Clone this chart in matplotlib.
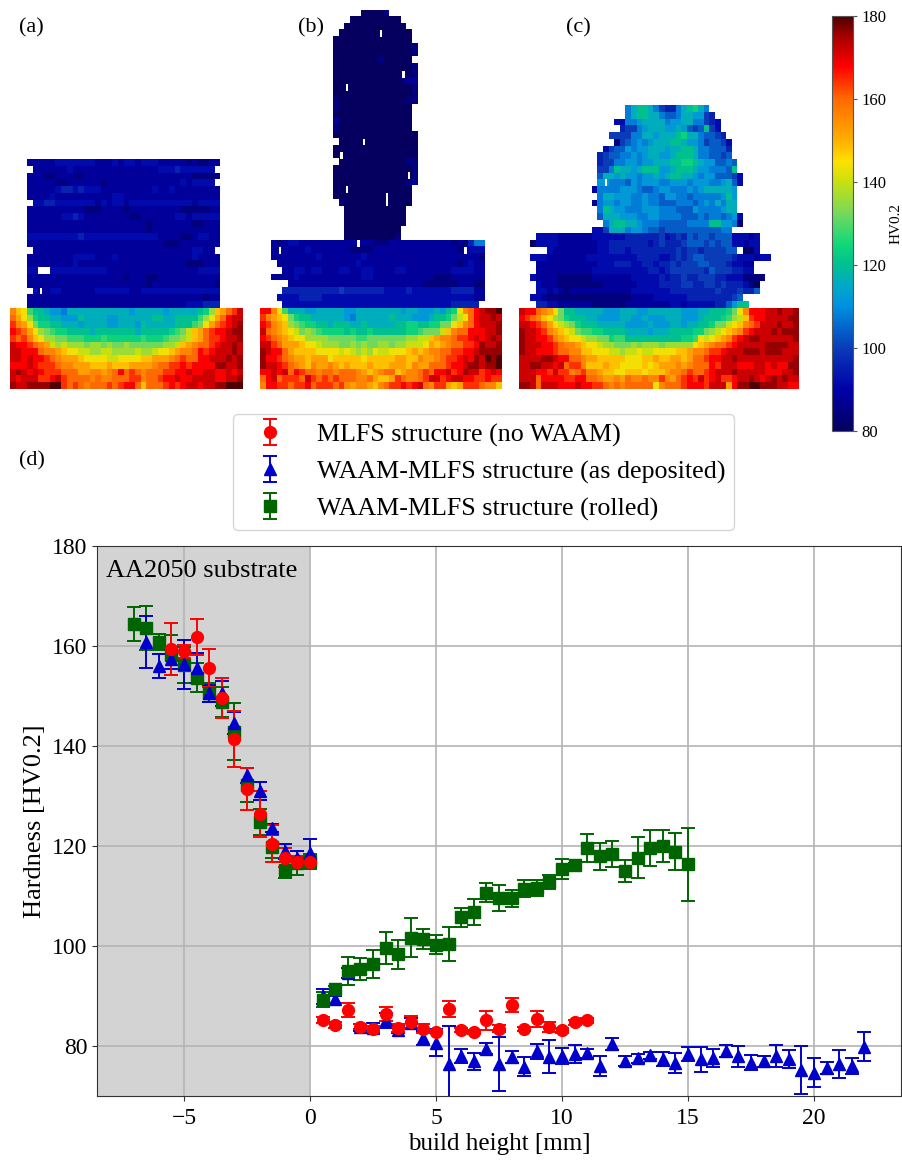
import matplotlib
matplotlib.use('Agg')
import matplotlib.pyplot as plt
from matplotlib.colors import LinearSegmentedColormap
from matplotlib.patches import Rectangle
import numpy as np

plt.rcParams['font.family'] = ['Liberation Serif', 'DejaVu Serif']

W, H = 902, 1161

# colour bar
CMAP_HV = [80, 90, 100, 110, 115, 120, 125, 132, 140, 145, 150, 160, 168, 175, 180]
CMAP_COLORS = ['#050060', '#0000aa', '#0a3cb8', '#0090e0', '#00a8c8', '#00c090', '#10d878', '#70d860', '#c8e010',
               '#ffe000', '#ffb000', '#ff6a00', '#ff0000', '#aa0000', '#500000']

# Hardness maps, one letter per indent: a = 80 HV, b = 84 HV ... z = 180 HV, '.' = no indent
DEPOSIT_A = [
    "cccccdddddddcccdcddcdddcccccbcbbcc",
    ".ccccccdcccccccccccccccdddedddddd.",
    "cccbbcccbbcccccccccccccccccccbbbbb",
    "cccccbbccccccbcccccccccccccdcdddd.",
    "cccccdeededddcccccccccdccdcccccccc",
    "ccccdccccccccccddccccccccccccccccc",
    ".ddeedddddddcdcddcdddddddddddcdddd",
    "ccccccccccbbbccccbcccccccccbbbbbcc",
    "ccccccddedccccccccbbccccccddcddddd",
    "cccccccccccccccccccccbcccccccbbccc",
    "cccccccccccccccccccccbcccccccccccc",
    "dddddddddedddddddddddddccccbbcddcc",
    "ccccccccccccccccccccccccbbbccccccc",
    ".ccccccccccccccccccccccccccccddcc.",
    "ccccccccddddcccdcccccccccccccdcccc",
    "ccccccccdcccccccccccccccccccbbbccc",
    "dd..ddddddddddccccccccccccccccdddd",
    "cccccccccccccccccbcccbbccccccccccc",
    "cccccccccccccccccccccbcccccccccccb",
    ".dccddccccccddddddccdddddddddddddd",
    "cccccccccccccccccccccccccccccccbcc",
    "ccccccccccccccccccccccccccccdddeee",
]
SUB_A = [
    "trqmkkjiihjjjjjjjjjjjijjjjjijjjjjklorsuvx",
    "usqolkkjjiiikjjjjiijjjjjjkkjjkkkkmoqsuwxx",
    "vtsqnllkkjjjijjjjiijjjikjjjjjkkkmnqsuvwxy",
    "wvusqonmllkkkkjkkkkkkkjkkkkklmnprsuvwwxyy",
    "vuvtrqoonnmmmlllmllllllmlllmnnoprsuvvwxxy",
    "xwwvutspopooonoononnonnnnnnooprstuuvwxxyx",
    "xxwwwuttsrqqppooppoooopoopqqrsttuwvwxxxyx",
    "xxwxwwvutsssrqqqqppqqqqrrssstuvuuwwxxxyxy",
    "wwwxwvvvuttsssrrrsrrrsssstuuvvwvwwwwyyxxy",
    "xyxwxwvvvuuussttstuwuvutuuuvvwwxwwxxwwxwx",
    "xwxxxvvwxvuuuututtuuuvvtuuvwwxwwxxxxwwxxy",
    "yxxyyyyzzvuvutuuuvuvwwuruuuvwvwxxwxxyyzzz",
]
SLITS_A = [(19, 5)]

WALL_B = [
    ".....aaaab.....", "...aaaaaaaaa...", "..aaaaaaaaaaa..", ".aaaaaaaaaaaaa.",
    "aaaaaaaaaaaaaa.", "aaaaaaaaaaaaaab", "aaaaaaaaaaaaaab", "aaaaaaaabaaaaa.",
    "aaaaaaaaaaaaaab", "aaaaaaaaaaaaaab", "aaaaaaaaaaaabcc", "aaaaaaaaaaaaaab",
    "aaaaaaaaaaaaaab", "baaaaaaaaaaaabb", "baaaaaaaaaaaaa.", "aaaaaaaaaaaaaa.",
    "caaaaaaaaaaaaa.", "baaaaaaaaaaaaa.", "aaaaaaaaaaaaaaa", ".aaaaaaaaaaaaaa",
    "aaaaaaaaaaaaaaa", "aaaaaaaaaaaaaaa", ".aaaaaaaaaaaabb", "aaaaaaaaaaaaaab",
    "aaaaaaaaaaaaaab", "aaaaaaaaaaaaabc", "aaaaaaaaaaaaaa.", "aaaaaaaaaaaaaa.",
    ".baaaaaaaaaaaa.", "..aaaaaaaaaaa..", "..aaaaaaaaaaa..", "..aaaaaaaaaaa..",
    "..aaaaaaaaaa...", "..aaaaaaaaab...",
]
BASE_B = [
    "cbcddcccccccccccccbbbcccccccccccbcbehh",
    "ccccccdcccccccbbbbcccccccccccccccbcddd",
    "ccccccccdcccccccdccccccccccccccccccccb",
    ".ccccccccccccccdcccccccccccccccccbcdcc",
    "..ccddcddcccddccddccccddccccccccddddcc",
    "ccccdcccccccccccddcccccccccccbbbcccccc",
    "...ccccccccccccccccccccccccbbbbbbcccbb",
    "..eeeeeeeeeefeeeeeeeddddedddddddeeeecc",
    ".ddddeeeedddddddddddddddddddddddddddcc",
    "..ddddddddddddddddddddddddddddddeeeee.",
]
SUB_B = [
    "wwtqmjjjiijjjjjiijjjjjjjjijjiiijiklqtuwxyyz",
    "vtsrqnlkkjjjjjjihjjjjjjkjjjiiijkklnpquwxxyx",
    "wvtsronmllkkjkkkjjkjjjjjkkllkkllnnqrtuwxxxy",
    "xutsrqpnonmllllklkklkkkkkkllmnnnprtuuwwwxxy",
    "wvutsrqqoooonnnnnmmnnnnnnnoopprsttuvvwxwxyx",
    "xxvusssrqqpooonnononnoonoopppqsrstuuvvwyxxy",
    "yxwwusrrrrqqqqpqpopoqppqqqrsrsttuuvvwwxyyyy",
    "ywwvutssrsssqrrrrrqrrrrrssrrtsstuvvwxwyxzyz",
    "yxxwvutsrtsstsrsrrrsrrrsssrtssuuuvwwxyyxyyz",
    "wwxwxuwvuutuutuuutsrstuursttuvuwwxvwyxxvwxw",
    "uwxuvvvuxvuvuvuuuttusrrsvuttuvxxvwxxwwvvwvv",
    "twwvvuvvwuvvvuvtsttsrtuvvwvwxutvvsrsvvvuttr",
]
SLITS_B = [(3, 21), (9, 25), (11, 15), (19, 18), (21, 14), (24, 26), (26, 15), (27, 22), (28, 22), (34, 17),
           (35, 3), (35, 36)]

MAP_C = [
    "...................hjkkjhfeehjkljh................",
    "...................hjkkjjhgghjjiife...............",
    ".................ddhhijjjjhiijjhhfed..............",
    "..................effhijjjiijigfgkfd..............",
    "................ffffhhjjijjjkljjhggfe.............",
    ".................bfghihijjjkkjiihfggfd............",
    "...............dfggihiijjjijjkkjhhggge............",
    "..............efgghhihijjiijkkkjhhggfg............",
    "..............effhhiihiijjjkkllkjiigghg...........",
    "..............ffhkjjijkkkiijkkkjiihhhgk...........",
    "..............gjjijiihiijijkkjjihiigggfd..........",
    "..............iihhhgihiiihhiiihiiihhijgd..........",
    ".............chhhhiiihgghiihhhihijjjjji...........",
    "..............hjjiiihhihhgiihhghhhhhiki...........",
    ".............chiihiihhihhggghhhghihjhjj...........",
    "..............hkjiihhhiiihhhgggihhhhijj...........",
    "..............gjjjiiihhiihhhhggghghhghid..........",
    "...............hjkkjjihhhggggghhhhkkiihb..........",
    ".............ddfjjjhiihggfgggggggggghh............",
    "...ddddccccccddddddeeeeeefdefegfggfgggdddcd.......",
    "..addddcccccccddeeeeeeedefeeefgggfgfggddcdd.......",
    ".....dccccccccddeeedeeeeeeeefeffeffffgg.aad.......",
    "..dddcccccccdddddddddeeeeddefefggfffffedddcdd.....",
    "...cccccccccccdddeeeddeedeefefffggfffeddcc........",
    "...ccccccccccddddddddddeedeffffffegfffeedd........",
    "..dccccbbbbbbcccccccdddddedeefeefffeedddbbbb......",
    "...dcccbbbbbbbbccccccddddeeeeffeeffefeeedba.......",
    "...ddcdcbcccccccccccdddddddeeeeeeeefeeefeeg.......",
    "..ddcbbbbbbbbbbbbbbbccccddddddeeeeeeeefg..........",
    "...eeddccccccbbbbbbccccccccddcdddddeegikk.........",
    "xwwutsqnkkjjjjjiiijjjiijjjjjjiiijjkkklnqtwwwxxyxxy",
    "wvutrqonlkkkjjiiiijjiijiiijjjiiijkkklmoprvwwxxxxyy",
    "xxwvusqponlkkkjjjjjiiiijiiijjijjkklnnpqrtuvxxxyxxy",
    "yxxwvtsrqpnmmllkkkkjjjjijjjkkkkllnopqrstvwxxxyxyyy",
    "yxxwwvtsrqqpoonnlmmkkkkkkkkkkllmqpqrstvwxyyxxxxxxy",
    "yxxxwwvuttsrqqpoonnnonooonoooooqrstuuvwxxxxxyyyyxx",
    "yxxwwwvuuttrrqqqppoppqppqqqqrrsttuvvwxxxyyyxyyyxxx",
    "xxxxyyxwwuutssrrrrrqqqrrsrrssrsuuvwwxxyxxxxxxxxxxy",
    "xxyyxxwxuvvtrrrsrrqqqqrqrssststuuuwvxxxwwwxxwxwwyy",
    "xxxwwvxvvtuvttsrrqqrrrqrrrsttuvuuvwxxxyxxxxxwwwxxy",
    "xxxuwwwwvvwwuutsstsuttuttvtsuvwvxvwxvvwxxyxwxyxyxx",
    "yyxuxxxwwwxwwvvututuuuuuqtuuuvwwwvxxxswyyzzyyyxxww",
]
SLITS_C = [(11, 15)]

# hardness profiles: build height, mean, error bar
X_RED = [-5.5, -5, -4.5, -4, -3.5, -3, -2.5, -2, -1.5, -1, -0.5, 0, 0.5, 1, 1.5, 2, 2.5, 3, 3.5, 4, 4.5, 5,
         5.5, 6, 6.5, 7, 7.5, 8, 8.5, 9, 9.5, 10, 10.5, 11]
Y_RED = [159.5, 159, 161.8, 155.6, 149.6, 141.4, 131.4, 126.4, 120.5, 117.7, 116.8, 116.9, 85.3, 84.2, 87.2, 83.9,
         83.4, 86.4, 83.6, 84.9, 83.5, 82.9, 87.4, 83.3, 82.9, 85.2, 83.5, 88.2, 83.4, 85.5, 83.8, 83.2, 84.8, 85.2]
E_RED = [5.2, 1.3, 3.6, 3.8, 4, 5.6, 4.2, 4.6, 3.7, 1.9, 1.3, 1, 0.6, 0.6, 1.4, 0.5,
         0.6, 1.4, 0.8, 1.2, 0.9, 0.3, 1.6, 0.4, 0.4, 1.9, 0.7, 1.4, 0.4, 1.6, 1, 0.5, 0.5, 0.5]

X_BLUE = [-6.5, -6, -5.5, -5, -4.5, -4, -3.5, -3, -2.5, -2, -1.5, -1, -0.5, 0, 0.5, 1, 1.5, 2, 2.5, 3, 3.5, 4,
          4.5, 5, 5.5, 6, 6.5, 7, 7.5, 8, 8.5, 9, 9.5, 10, 10.5, 11, 11.5, 12, 12.5, 13, 13.5, 14, 14.5, 15,
          15.5, 16, 16.5, 17, 17.5, 18, 18.5, 19, 19.5, 20, 20.5, 21, 21.5, 22]
Y_BLUE = [160.8, 156, 157.5, 156.4, 155.6, 150.6, 150.6, 144.6, 134.2, 131.1, 123.6, 119, 117.7, 118.7, 90, 89.4,
          94.6, 83.8, 83.6, 85.2, 83.3, 84.6, 81.6, 80.7, 76.4, 78, 77, 79.5, 76.4, 77.8, 75.9, 79, 77.9, 78.1,
          78.4, 78.6, 76, 80.4, 77, 77.6, 78.2, 77.5, 76.6, 78.4, 77.4, 77.6, 79, 78, 76.7, 77, 78, 77.4, 75.2,
          74.7, 75.6, 76.4, 76.1, 79.9]
E_BLUE = [5.2, 2.4, 2, 4.9, 3, 1.7, 2.5, 2.2, 1.5, 1.8, 0.8, 1.5, 1.4, 2.8, 1.5, 0.7,
          1, 0.7, 1, 1.5, 0.7, 1, 1.4, 2.7, 7.6, 1.4, 1.7, 1.1, 5.4, 1.2, 1.9, 1.5, 3.3, 1.6,
          1.8, 0.9, 2, 1.2, 1, 0.9, 0.7, 1.4, 2, 1.4, 2.5, 1.8, 1.2, 2.1, 1.5, 1.1, 2.2, 1.8,
          4.8, 2.9, 1.2, 2.8, 1.6, 2.9]

X_GREEN_SUB = [-7, -6.5, -6, -5.5, -5, -4.5, -4, -3.5, -3, -2.5, -2, -1.5, -1, -0.5, 0]
Y_GREEN_SUB = [164.4, 163.7, 160.8, 158.3, 156.2, 153.7, 150.7, 148.9, 142.9, 132.2, 124.9, 119.9, 115.3, 116.6, 117]
E_GREEN_SUB = [3.4, 4.4, 1.6, 4, 3.6, 2.9, 1.9, 3, 5.7, 3.4, 2.6, 2.3, 1.6, 2.4, 1.5]

X_GREEN = [0.5, 1, 1.5, 2, 2.5, 3, 3.5, 4, 4.5, 5, 5.5, 6, 6.5, 7, 7.5, 8, 8.5, 9, 9.5, 10, 10.5, 11, 11.5, 12,
           12.5, 13, 13.5, 14, 14.5, 15]
Y_GREEN = [89.3, 91.4, 95, 95.4, 96.5, 99.7, 98.4, 101.7, 101.5, 100.3, 100.4, 105.8, 106.9, 110.7, 109.7, 109.6,
           111.5, 111.6, 112.8, 115.4, 116.2, 119.6, 118, 118.4, 115, 117.7, 119.6, 120, 118.9, 116.4]
E_GREEN = [1.5, 0.7, 2.8, 2.2, 2.8, 3.2, 2.9, 3.9, 2, 1.9, 3.4, 1.9, 2.6, 1.9, 2.6, 1.7,
           1.7, 1.6, 1.4, 2, 0.5, 2.8, 2.7, 2.6, 2.2, 4.1, 3.6, 3.2, 3.7, 7.3]

LABELS = ['MLFS structure (no WAAM)', 'WAAM-MLFS structure (as deposited)', 'WAAM-MLFS structure (rolled)']

hv_cmap = LinearSegmentedColormap.from_list(
    'hv', [((v - 80) / 100, c) for v, c in zip(CMAP_HV, CMAP_COLORS)])


def px_axes(fig, x0, y0, x1, y1):
    return fig.add_axes([x0 / W, 1 - y1 / H, (x1 - x0) / W, (y1 - y0) / H])


def decode(rows):
    ncol = max(len(r) for r in rows)
    out = np.full((len(rows), ncol), np.nan)
    for i, row in enumerate(rows):
        for j, c in enumerate(row):
            if c != '.':
                out[i, j] = 80 + 4 * (ord(c) - 97)
    return np.ma.masked_invalid(out)


def draw_map(fig, rows, box, slits):
    ax = px_axes(fig, *box)
    im = ax.imshow(decode(rows), cmap=hv_cmap, vmin=80, vmax=180, aspect='auto', interpolation='nearest')
    # indents that only left a narrow gap
    for r, c in slits:
        ax.add_patch(Rectangle((c - 0.2, r - 0.5), 0.4, 1, color='white', lw=0))
    ax.axis('off')
    return im


fig = plt.figure(figsize=(W / 100, H / 100), dpi=100)

map_a = ["..." + r + "...." for r in DEPOSIT_A] + SUB_A
map_b = ["............." + r + "..............." for r in WALL_B] + [".." + r + "..." for r in BASE_B] + SUB_B
im = draw_map(fig, map_a, (10, 159, 242, 389), SLITS_A)
draw_map(fig, map_b, (260, 10, 502, 389), SLITS_B)
draw_map(fig, MAP_C, (519, 105, 799, 389), SLITS_C)

cax = px_axes(fig, 832, 16, 853, 431)
cb = fig.colorbar(im, cax=cax)
cb.outline.set_edgecolor('#555555')
cb.set_ticks([80, 100, 120, 140, 160, 180])
cb.ax.tick_params(labelsize=12, length=3, pad=3, color='#555555')
cb.set_label('HV0.2', fontsize=11, labelpad=2)

for s, x, y in [('(a)', 19, 28), ('(b)', 298, 28), ('(c)', 566, 28), ('(d)', 19, 461)]:
    fig.text(x / W, 1 - y / H, s, fontsize=16, va='center')

ax = px_axes(fig, 97, 546, 901, 1096)
ax.axvspan(-8.45, 0, color='lightgray', zorder=0, lw=0)
ax.grid(True, color='#b4b4b4', lw=1.2)
ax.set_axisbelow(True)

style = dict(ls='none', capsize=4.7, elinewidth=1.4, capthick=1.4)
ax.errorbar(X_GREEN_SUB, Y_GREEN_SUB, yerr=E_GREEN_SUB, fmt='s', color='darkgreen', ms=8.5, **style)
blue = ax.errorbar(X_BLUE, Y_BLUE, yerr=E_BLUE, fmt='^', color='mediumblue', ms=8.5, **style)
green = ax.errorbar(X_GREEN, Y_GREEN, yerr=E_GREEN, fmt='s', color='darkgreen', ms=8.5, **style)
red = ax.errorbar(X_RED, Y_RED, yerr=E_RED, fmt='o', color='red', ms=8.5, **style)

ax.set_xlim(-8.45, 23.45)
ax.set_ylim(70, 180)
ax.set_xticks([-5, 0, 5, 10, 15, 20])
ax.set_yticks([80, 100, 120, 140, 160, 180])
ax.tick_params(labelsize=17, color='#333333')
ax.tick_params(axis='x', pad=5)
for sp in ax.spines.values():
    sp.set_edgecolor('#333333')
ax.set_xlabel('build height [mm]', fontsize=18, labelpad=3)
ax.set_ylabel('Hardness [HV0.2]', fontsize=19, labelpad=4)
ax.text(-8.1, 175, 'AA2050 substrate', fontsize=19, va='center')

fig.legend([red, blue, green], LABELS, loc='upper left', bbox_to_anchor=(233 / W, 1 - 414 / H), borderaxespad=0,
           fontsize=18.7, handlelength=2.14, handletextpad=0.74, labelspacing=0.52, borderpad=0.35)

plt.savefig('out.png', dpi=100)
